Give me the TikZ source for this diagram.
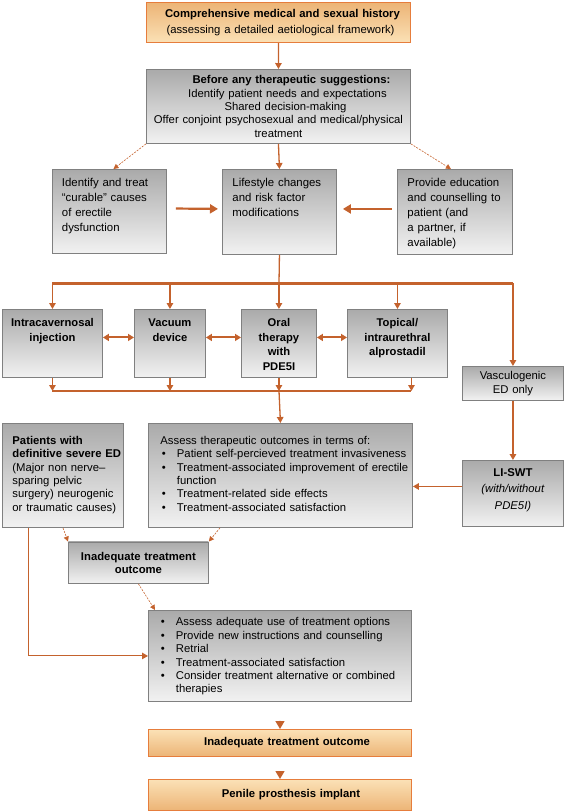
\documentclass[tikz,border=0pt]{standalone}
\usepackage{fontspec}
\setmainfont{Liberation Sans}
\usetikzlibrary{arrows.meta}

\definecolor{arrc}{RGB}{196,98,45}
\definecolor{gline}{RGB}{128,128,128}
\definecolor{gtop}{RGB}{170,170,170}
\definecolor{gbot}{RGB}{242,242,242}
\definecolor{oline}{RGB}{230,125,60}
\definecolor{otop}{RGB}{236,180,118}
\definecolor{obot}{RGB}{251,225,182}

\newcommand{\fsa}{\fontsize{11.3}{13.4}\selectfont}
\newcommand{\fsb}{\fontsize{11.4}{15}\selectfont}
\newcommand{\fsc}{\fontsize{11.2}{14.4}\selectfont\bfseries}
\newcommand{\fsd}{\fontsize{11.3}{16}\selectfont}
\newcommand{\fse}{\fontsize{11.3}{16.5}\selectfont}
\newcommand{\bitem}{\makebox[16.5pt][l]{\hspace{1.5pt}\textbullet}}
\newcommand{\bmore}{\par\hspace*{16.5pt}}

\begin{document}
\begin{tikzpicture}[
    x=1pt, y=-1pt,
    gbox/.style={draw=gline, line width=0.9pt, top color=gtop, bottom color=gbot, inner sep=0pt, anchor=north west},
    obox/.style={draw=oline, line width=1pt, top color=otop, bottom color=obot, inner sep=0pt, anchor=north west},
    lowbox/.style={obox, top color=obot, bottom color=otop},
    cbox/.style 2 args={minimum width=#1pt, text width=#1pt-8pt, inner xsep=4pt, minimum height=#2pt, align=center},
    tbox/.style n args={3}{minimum width=#1pt, text width=#1pt-8pt, inner xsep=4pt, text height=#2pt, text depth=#3pt, align=center},
    lbox/.style n args={4}{minimum width=#1pt, text width=#1pt, inner xsep=0pt, text height=#2pt, text depth=#3pt, align=left, execute at begin node={\leftskip=#4pt}},
    arr/.style={draw=arrc, line width=1.3pt, -{Triangle[width=6.5pt,length=6pt]}},
    bigtip/.style={draw=arrc, line width=1.3pt, -{Triangle[width=9pt,length=8pt]}},
    link/.style={draw=arrc, line width=1.3pt},
    bus/.style={draw=arrc, line width=3pt},
    heavy/.style={draw=arrc, line width=2.2pt, -{Triangle[width=9pt,length=8pt]}},
    twoway/.style={draw=arrc, line width=2pt, {Triangle[width=7pt,length=6pt]}-{Triangle[width=7pt,length=6pt]}},
    dlink/.style={draw=arrc, line width=0.6pt, dash pattern=on 2pt off 1.2pt, -{Triangle[width=5pt,length=5pt]}}
]
\useasboundingbox (0,0) rectangle (565,812);

% history and first steps
\node[obox, cbox={264}{40}, font=\fsd] (history) at (146,2)
    {\hspace*{8pt}\textbf{Comprehensive medical and sexual history}\\\hspace*{4pt}(assessing a detailed aetiological framework)};
\node[gbox, cbox={264}{74}, font=\fsa] (before) at (146,69)
    {\hspace*{26pt}\textbf{Before any therapeutic suggestions:}\\\hspace*{18pt}Identify patient needs and expectations\\\hspace*{14pt}Shared decision-making\\Offer conjoint psychosexual and medical/physical\\treatment};
\node[gbox, lbox={114}{17.4}{66.6}{9.5}, font=\fsb] (curable) at (52,169)
    {Identify and treat\\``curable'' causes\\of erectile\\dysfunction};
\node[gbox, lbox={114}{17.4}{67.6}{10}, font=\fsb] (lifestyle) at (222,169)
    {Lifestyle changes\\and risk factor\\modifications};
\node[gbox, lbox={115}{17.4}{67.6}{10}, font=\fsb] (educ) at (397,169)
    {Provide education\\and counselling to\\patient (and\\a partner, if\\available)};

% therapies
\node[gbox, tbox={100}{17.5}{50.5}, font=\fsc] (intra) at (2,309) {Intracavernosal\\injection};
\node[gbox, tbox={71}{17.5}{50.5}, font=\fsc] (vacuum) at (134,309) {Vacuum\\device};
\node[gbox, tbox={75}{17.5}{50.5}, font=\fsc] (oral) at (241,309) {Oral\\therapy\\with\\PDE5I};
\node[gbox, tbox={100}{17.5}{50.5}, font=\fsc] (topical) at (347,309) {Topical/\\intraurethral\\alprostadil};
\node[gbox, cbox={101}{34}, font=\fsa] (vasc) at (462,366) {Vasculogenic\\ED only};

% outcomes
\node[gbox, lbox={121}{20.8}{83.2}{10}, font=\fsa] (patients) at (2,423)
    {\textbf{Patients with}\\\textbf{definitive severe ED}\\(Major non nerve--\\sparing pelvic\\surgery) neurogenic\\or traumatic causes)};
\node[gbox, lbox={264}{20.8}{83.2}{12}, font=\fsa] (assess) at (148,423)
    {Assess therapeutic outcomes in terms of:\par
     \bitem Patient self-percieved treatment invasiveness\par
     \bitem Treatment-associated improvement of erectile\bmore function\par
     \bitem Treatment-related side effects\par
     \bitem Treatment-associated satisfaction};
\node[gbox, tbox={101}{15.7}{50.3}, font=\fse] (liswt) at (462,460)
    {\textbf{LI-SWT}\\\textit{(with/without}\\\textit{PDE5I)}};
\node[gbox, cbox={140}{41.5}, font=\fsa\bfseries] (inad1) at (68,541.5) {Inadequate treatment\\outcome};
\node[gbox, lbox={263}{15.5}{75.5}{11}, font=\fsa] (adequate) at (148,610)
    {\bitem Assess adequate use of treatment options\par
     \bitem Provide new instructions and counselling\par
     \bitem Retrial\par
     \bitem Treatment-associated satisfaction\par
     \bitem Consider treatment alternative or combined\bmore therapies};
\node[lowbox, cbox={263}{27}, font=\fsa\bfseries] (inad2) at (148,729) {\hspace*{14pt}Inadequate treatment outcome};
\node[lowbox, cbox={263}{31}, font=\fsa\bfseries] (penile) at (148,779) {\hspace*{22pt}Penile prosthesis implant};

% connectors, top part
\draw[arr] (history.south) -- (before.north);
\draw[dlink] (before.south west) -- ([xshift=4pt]curable.north);
\draw[dlink] (before.south east) -- ([xshift=-4pt]educ.north);
\draw[arr] (before.south) -- (lifestyle.north);
\draw[heavy, shorten <=9pt, shorten >=4pt] ([yshift=3pt]curable.east) -- ([yshift=3pt]lifestyle.west);
\draw[heavy, shorten <=5pt, shorten >=6pt] ([yshift=3pt]educ.west) -- ([yshift=3pt]lifestyle.east);

% split to the therapies
\coordinate (split) at (279,283);
\draw[link] (lifestyle.south) -- (split);
\draw[bus] (intra.north |- split) -- (vasc.north |- split);
\foreach \t in {intra, vacuum, oral, topical}
    \draw[arr] (\t.north |- split) -- (\t.north);
\draw[arr, line width=1.6pt] (vasc.north |- split) -- (vasc.north);

\draw[twoway] ([yshift=6pt]intra.east) -- ([yshift=6pt]vacuum.west);
\draw[twoway] ([yshift=6pt]vacuum.east) -- ([yshift=6pt]oral.west);
\draw[twoway] ([yshift=6pt]oral.east) -- ([yshift=6pt]topical.west);

% merge into the assessment
\coordinate (merge) at (279,391);
\coordinate (tdrop) at ([xshift=14pt]topical.south);
\draw[link, line width=2pt] (intra.south |- merge) -- (tdrop |- merge);
\foreach \t in {intra, vacuum, oral}
    \draw[arr] (\t.south) -- (\t.south |- merge);
\draw[arr] (tdrop) -- (tdrop |- merge);
\draw[arr] (merge) -- (assess.north);

\draw[arr, line width=1.6pt] (vasc.south) -- (liswt.north);
\coordinate (lsw) at ([yshift=7pt]liswt.west);
\draw[arr] (lsw) -- (lsw -| assess.east);

% lower part
\draw[dlink] ([xshift=61pt]patients.south west) -- (inad1.north west);
\draw[dlink] ([xshift=72pt]assess.south west) -- (inad1.north east);
\draw[dlink] (inad1.south) -- ([xshift=7pt]adequate.north west);
\coordinate (pdrop) at ([xshift=26pt]patients.south west);
\draw[arr, line width=1pt] (pdrop) |- (adequate.west);
\draw[bigtip, shorten <=19pt] (adequate.south) -- (inad2.north);
\draw[bigtip, shorten <=14pt] (inad2.south) -- (penile.north);

\end{tikzpicture}
\end{document}
